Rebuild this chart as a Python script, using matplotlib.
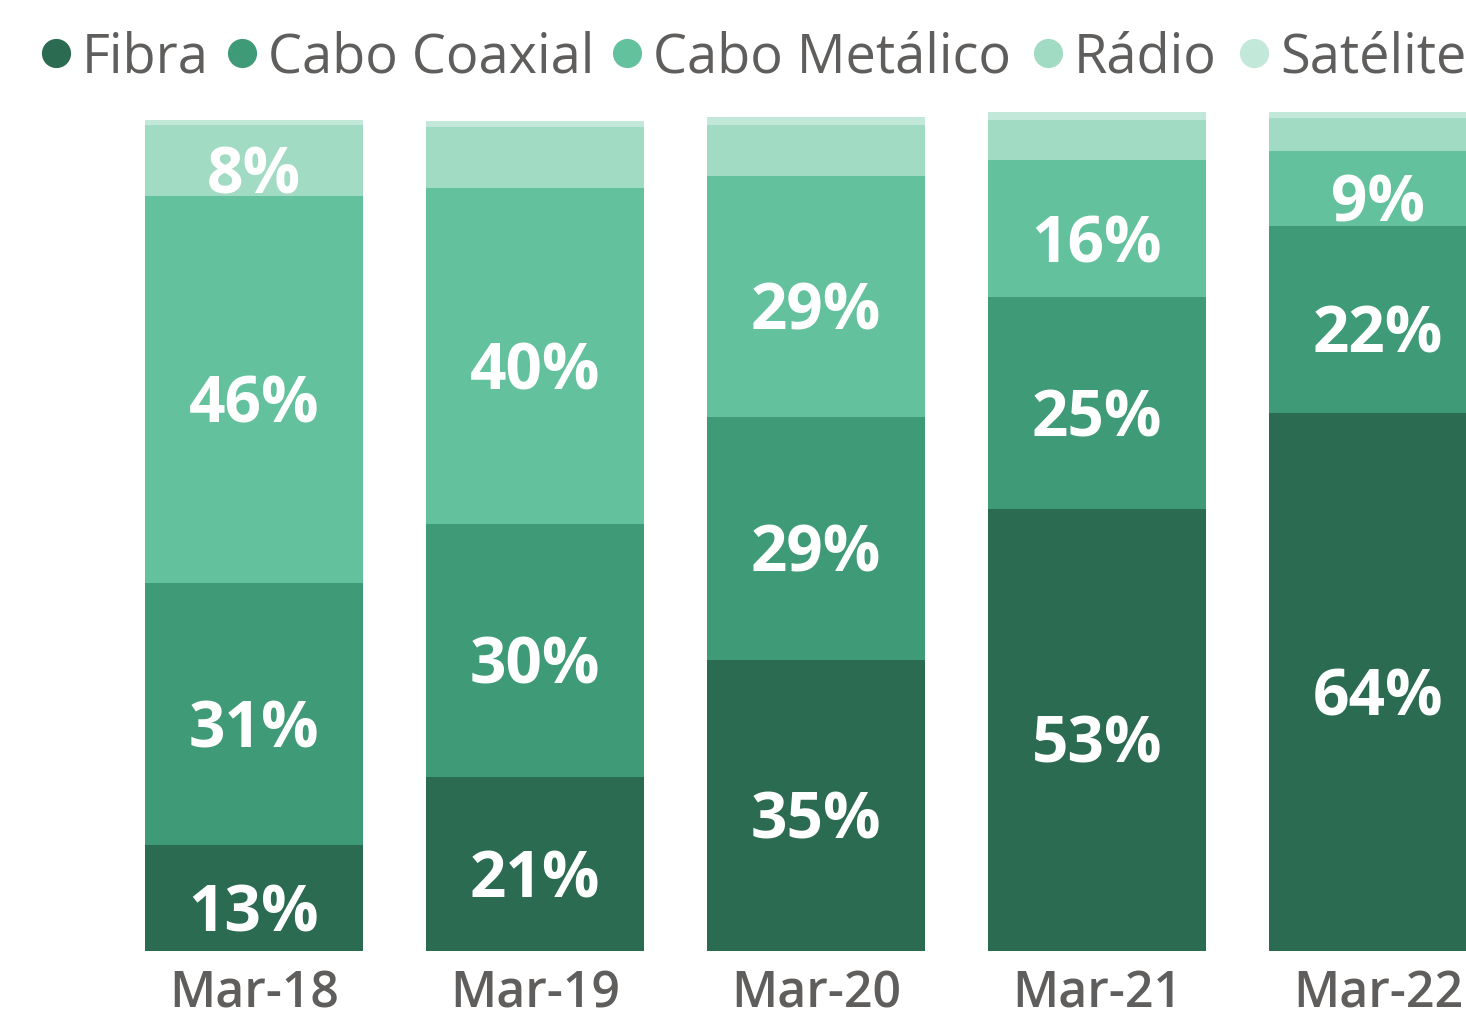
import matplotlib.pyplot as plt
from matplotlib.lines import Line2D
import numpy as np

# periods and series (share of accesses, %)
periods = ["Mar-18", "Mar-19", "Mar-20", "Mar-21", "Mar-22"]
fibra = [12.6, 20.7, 34.6, 52.6, 63.9]
cabo_coaxial = [31.1, 30.1, 28.9, 25.1, 22.3]
cabo_metalico = [46.1, 39.9, 28.6, 16.3, 8.9]
radio = [8.4, 7.3, 6.1, 4.8, 3.9]
satelite = [0.55, 0.7, 0.9, 0.95, 0.8]

names = ["Fibra", "Cabo Coaxial", "Cabo Metálico", "Rádio", "Satélite"]
colors = ["#2A6B51", "#3F9B77", "#63C19D", "#A2DBC4", "#C2E8D9"]
series = [fibra, cabo_coaxial, cabo_metalico, radio, satelite]

plt.rcParams['font.family'] = ['Open Sans', 'DejaVu Sans']
grey = "#605E5C"

fig = plt.figure(figsize=(14.66, 10.15), dpi=100)
ax = fig.add_axes([0, 0.0631, 1, 0.8336])

x = np.arange(len(periods))
bottom = np.zeros(len(periods))
for vals, col in zip(series, colors):
    vals = np.array(vals)
    ax.bar(x, vals, 0.776, bottom=bottom, color=col, edgecolor='none')
    for xi, b, v in zip(x, bottom, vals):
        if v >= 8:
            ax.annotate(f"{round(v)}%", (xi, b + v / 2), xytext=(0, -12),
                        textcoords='offset points', ha='center', va='center',
                        color='white', fontsize=46, fontweight='bold')
    bottom += vals

ax.set_xlim(-254 / 281, (1466 - 254) / 281)
ax.set_ylim(0, (951 - 106) / 8.4)
ax.set_xticks(x)
ax.set_xticklabels(periods, fontsize=36, color=grey, fontweight='semibold')
ax.tick_params(axis='x', length=0, pad=13)
ax.set_yticks([])
for s in ax.spines.values():
    s.set_visible(False)

# legend drawn by hand across the top
leg_x = [56, 242, 627, 1048, 1254]
for lx, name, col in zip(leg_x, names, colors):
    fig.add_artist(Line2D([lx / 1466], [1 - 53 / 1015], marker='o',
                          markersize=21, color=col, markeredgewidth=0,
                          linestyle='none', transform=fig.transFigure))
    fig.text((lx + 26) / 1466, 1 - 58 / 1015, name, fontsize=39, color=grey,
             va='center', ha='left')

fig.savefig("out.png", dpi=100)
